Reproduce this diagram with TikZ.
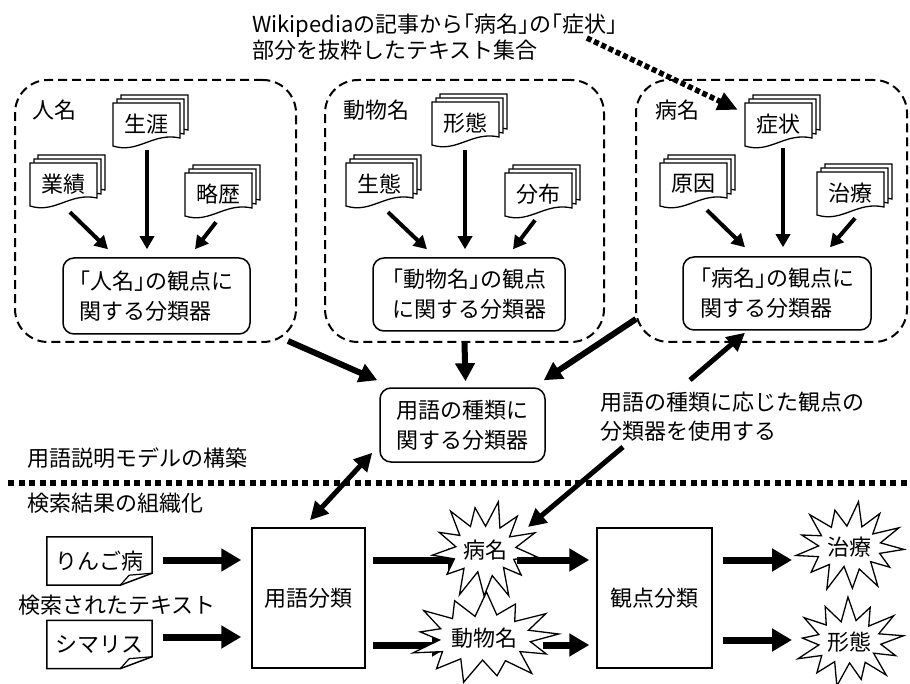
\documentclass[tikz,border=0pt]{standalone}
\usepackage{fontspec}
\setmainfont{Noto Sans CJK JP}
\usetikzlibrary{arrows.meta,calc}
\newcommand{\hb}[1]{{\addfontfeature{RawFeature=+halt}#1}}
\newcommand{\docstack}[4]{%
  \begin{scope}[shift={(#2,#3)}]
    \foreach \o in {8,4,0} {\draw[page] (\o,-\o) -- ++(67,0) -- ++(0,35) .. controls +(-27,-6) and +(25,8) .. ++(-67,8) -- cycle;}
    \node[docn] (#1) at (33.5,21) {#4};
  \end{scope}}
% burst polygon: cx, cy, rx, ry, inner rx, inner ry, angle offset, list
\newcommand{\burstshape}[8]{%
  \begin{scope}[shift={(#1,#2)}]
    \draw[burstline] (#7:#3 and #4) \foreach \k/\f/\g in {#8} {-- ({#7+(\k-0.5)*360/13}:{\g*#5} and {\g*#6}) -- ({#7+\k*360/13}:{\f*#3} and {\f*#4})} -- cycle;
  \end{scope}}
\tikzset{
  group/.style={draw, line width=2pt, dash pattern=on 9pt off 5pt, rounded corners=33pt},
  cls/.style={draw, line width=1.5pt, rounded corners=11pt, align=left, inner sep=0pt, font=\fontsize{22pt}{30pt}\selectfont},
  docn/.style={minimum width=67pt, minimum height=42pt, inner sep=0pt},
  page/.style={draw, line width=1.3pt, fill=white},
  inarr/.style={line width=4pt, -{Triangle[length=13pt,width=14pt]}},
  bigarr/.style={line width=6pt, -{Triangle[length=18pt,width=19pt]}},
  midarr/.style={line width=5pt, -{Triangle[length=18pt,width=18pt]}},
  harr/.style={line width=7pt, -{Triangle[length=20pt,width=22pt]}},
  burstline/.style={draw, line width=1.3pt, fill=white, line join=miter},
  btext/.style={inner sep=0pt},
  plainbox/.style={draw, line width=1.5pt},
  lbl/.style={anchor=west, inner sep=0pt},
  sepline/.style={line width=6pt, dash pattern=on 6pt off 4.5pt},
  dotarr/.style={line width=5.5pt, dash pattern=on 5pt off 3pt, -{Triangle[length=20pt,width=18pt]}},
  dogdoc/.style={minimum width=105pt, minimum height=48pt, inner sep=0pt}
}
\begin{document}
\begin{tikzpicture}[x=1pt,y=-1pt, font=\fontsize{22pt}{27pt}\selectfont]
\useasboundingbox (0,0) rectangle (910,684);

% top text
\node[lbl, align=left, font=\fontsize{22pt}{26.5pt}\selectfont] (tt) at (252,37) {Wikipediaの記事から\hb{「}病名\hb{」}の\hb{「}症状\hb{」}\\部分を抜粋したテキスト集合};

% groups
\node[group, minimum width=281pt, minimum height=262pt] (g1) at (155.5,211) {};
\node[group, minimum width=279pt, minimum height=262pt] (g2) at (464.5,211) {};
\node[group, minimum width=271pt, minimum height=262pt] (g3) at (771.5,211) {};

\node[lbl] (l1) at (32,110) {人名};
\node[lbl] (l2) at (343,110) {動物名};
\node[lbl] (l3) at (655,110) {病名};

% doc stacks
\docstack{d1t}{113}{103}{生涯}
\docstack{d1l}{30}{163}{業績}
\docstack{d1r}{185}{173}{略歴}
\docstack{d2t}{432}{102}{形態}
\docstack{d2l}{346}{163}{生態}
\docstack{d2r}{505}{173}{分布}
\docstack{d3t}{745}{103}{症状}
\docstack{d3l}{660}{163}{原因}
\docstack{d3r}{817}{172}{治療}

% classifiers
\node[cls, minimum width=187pt, minimum height=76pt] (c1) at (156.5,296) {\hb{「}人名\hb{」}の観点に\\関する分類器};
\node[cls, minimum width=192pt, minimum height=73pt] (c2) at (469,294.5) {\hb{「}動物名\hb{」}の観点\\に関する分類器};
\node[cls, minimum width=188pt, minimum height=73pt] (c3) at (777,293.5) {\hb{「}病名\hb{」}の観点に\\関する分類器};

% inner arrows
\draw[inarr] ($(d1l.south)+(6.5,7)$) -- ($(c1.north)+(-48.5,-8)$);
\draw[inarr] ($(d1t.south)+(0.5,5)$) -- ($(c1.north)+(-9.5,-8)$);
\draw[inarr] ($(d1r.south)+(-2.5,7)$) -- ($(c1.north)+(38.5,-8)$);
\draw[inarr] ($(d2l.south)+(8.5,7)$) -- ($(c2.north)+(-42,-8)$);
\draw[inarr] ($(d2t.south)+(-0.5,6)$) -- ($(c2.north)+(-4,-8)$);
\draw[inarr] ($(d2r.south)+(-3.5,5)$) -- ($(c2.north)+(44,-8)$);
\draw[inarr] ($(d3l.south)+(13.5,5)$) -- ($(c3.north)+(-32,-9)$);
\draw[inarr] ($(d3t.south)+(4.5,3)$) -- ($(c3.north)+(6,-9)$);
\draw[inarr] ($(d3r.south)+(4.5,4)$) -- ($(c3.north)+(53,-9)$);

% dotted arrow from top text
\draw[dotarr] ($(tt.east)+(-31,1)$) -- ($(d3t.north west)+(-7,7)$);

% central classifier
\node[cls, minimum width=165pt, minimum height=74pt] (ctr) at (462.5,425) {用語の種類に\\関する分類器};

\draw[bigarr] ($(g1.south east)+(-9,-2)$) -- ($(ctr.north west)+(-2,-7)$);
\draw[bigarr] (g2.south) -- ($(ctr.north)+(3,-6)$);
\draw[bigarr] ($(g3.south west)+(1,-24)$) -- ($(ctr.north east)+(-2,-7)$);

% explanation text
\node[lbl, align=left, font=\fontsize{22pt}{29pt}\selectfont] (tx) at (600,417) {用語の種類に応じた観点の\\分類器を使用する};
\draw[midarr] ($(tx.west)+(90,-37)$) -- ($(c3.south)+(-32,2)$);

% separator
\coordinate (dl) at (8,483);
\coordinate (dr) at (910,483);
\draw[sepline] (dl) -- (dr);

\node[lbl] (m1) at (27,458) {用語説明モデルの構築};
\node[lbl] (m2) at (27,503) {検索結果の組織化};
\node[lbl] (m3) at (18,605) {検索されたテキスト};

% bottom boxes
\node[plainbox, minimum width=113pt, minimum height=140pt] (yb) at (308.5,598) {用語分類};
\node[plainbox, minimum width=115pt, minimum height=140pt] (kb) at (654.5,598) {観点分類};

\draw[midarr, {Triangle[length=18pt,width=18pt]}-{Triangle[length=18pt,width=18pt]}] ($(ctr.south west)+(-7,-10)$) -- ($(yb.north)+(1.5,-7)$);

% dog-ear docs
\node[dogdoc] (r1) at (99.5,561) {りんご病};
\node[dogdoc] (r2) at (99.5,644.5) {シマリス};
\foreach \r in {r1,r2} {
  \draw[line width=1.5pt] (\r.north west) -- (\r.north east) -- ($(\r.south east)+(0,-12)$) -- ($(\r.south east)+(-32,0)$) -- (\r.south west) -- cycle;
  \draw[line width=1.2pt] ($(\r.south east)+(-32,0)$) -- ($(\r.south east)+(-23,-10)$) -- ($(\r.south east)+(0,-12)$);
}
\draw[harr] ($(r1.east)+(11,-1)$) -- ($(r1.east -| yb.west)+(-10,-1)$);
\draw[harr] ($(r2.east)+(11,-7.5)$) -- ($(r2.east -| yb.west)+(-10,-7.5)$);

% burst centres
\coordinate (b1c) at (485,550);
\coordinate (b2c) at (484,638);

% arrows into bursts: drawn under the burst outlines
\draw[harr] ($(yb.east)+(7,-38)$) -- ($(b1c)+(-17,10)$);
\draw[harr] ($(yb.east)+(7,47)$) -- ($(b2c)+(-32,7)$);

% burst outlines
\burstshape{485}{550}{53}{51}{31}{25}{8}{1/0.84/1.0,2/1.0/0.92,3/0.9/1.05,4/1.0/0.9,5/0.86/1.0,6/1.0/1.05,7/0.93/0.95,8/1.0/1.0,9/0.85/1.05,10/0.98/0.95,11/0.9/1.0,12/1.0/0.95,13/1.0/1.0}
\burstshape{484}{638}{75}{46}{47}{24}{-5}{1/0.9/1.0,2/1.0/0.95,3/0.84/1.05,4/1.0/0.92,5/0.92/1.0,6/1.0/1.05,7/0.86/0.95,8/1.0/1.0,9/0.9/1.05,10/1.0/0.92,11/0.85/1.0,12/0.98/0.95,13/1.0/1.0}
\burstshape{849}{547}{55}{46}{32}{22}{3}{1/0.86/1.0,2/1.0/0.95,3/0.9/1.05,4/1.0/0.9,5/0.88/1.0,6/0.98/1.05,7/0.9/0.95,8/1.0/1.0,9/0.84/1.05,10/1.0/0.95,11/0.92/1.0,12/1.0/0.95,13/1.0/1.0}
\burstshape{849}{642}{55}{45}{32}{22}{-8}{1/0.9/1.0,2/1.0/0.92,3/0.86/1.05,4/1.0/0.95,5/0.9/1.0,6/1.0/1.05,7/0.85/0.95,8/0.98/1.0,9/0.9/1.05,10/1.0/0.95,11/0.86/1.0,12/1.0/0.95,13/1.0/1.0}
\node[btext] (b1) at (b1c) {病名};
\node[btext] (b2) at (b2c) {動物名};
\node[btext] (b3) at (849,547) {治療};
\node[btext] (b4) at (849,642) {形態};

\draw[midarr] ($(tx.west)+(23,30)$) -- ($(b1.center)+(43,-23)$);

% arrows out of bursts
\draw[harr] ($(b1.center)+(32,10)$) -- ($(kb.west)+(-7,-38)$);
\draw[harr] ($(b2.center)+(59,7)$) -- ($(kb.west)+(-7,47)$);
\draw[harr] ($(kb.east)+(10,-38)$) -- ($(b3.center)+(-57,13)$);
\draw[harr] ($(kb.east)+(10,42)$) -- ($(b4.center)+(-57,-2)$);
\end{tikzpicture}
\end{document}
